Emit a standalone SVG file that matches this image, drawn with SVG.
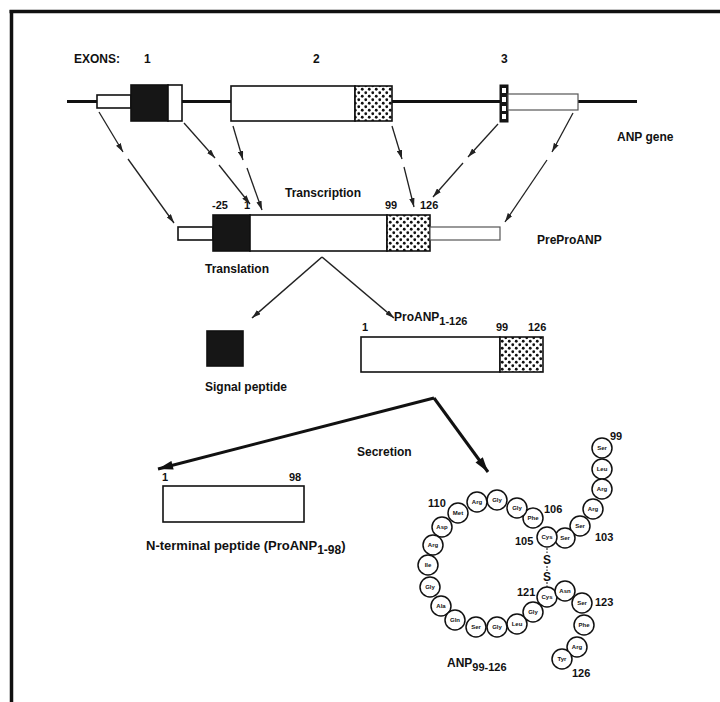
<svg xmlns="http://www.w3.org/2000/svg" width="720" height="702" viewBox="0 0 720 702">
<defs>
<style>
text{font-family:"Liberation Sans",Arial,sans-serif;font-weight:bold;fill:#111}
.lbl{font-size:12px}
.big{font-size:13px}
.num{font-size:11px}
.aa{font-size:6px;text-anchor:middle}
.box{fill:#fff;stroke:#111;stroke-width:1.6}
.blk{fill:#161616;stroke:#111;stroke-width:1.6}
.dot{fill:url(#dots);stroke:#111;stroke-width:1.6}
.utr{fill:#fff;stroke:#555;stroke-width:1.2}
.arr{stroke:#222;stroke-width:1.3;fill:none;marker-end:url(#ah)}
.tl{stroke:#222;stroke-width:1.6;fill:none;marker-end:url(#ah)}
.sec{stroke:#111;stroke-width:3;fill:none;marker-end:url(#bh)}
.res circle{fill:#fff;stroke:#111;stroke-width:1.5}
</style>
<pattern id="dots" width="7" height="7" patternUnits="userSpaceOnUse">
<rect width="7" height="7" fill="#fff"/>
<circle cx="1.75" cy="1.75" r="1.4" fill="#111"/>
<circle cx="5.25" cy="5.25" r="1.4" fill="#111"/>
</pattern>
<marker id="ah" viewBox="0 0 10 6" refX="10" refY="3" markerWidth="9" markerHeight="5.5" orient="auto" markerUnits="userSpaceOnUse">
<path d="M0,0 L10,3 L0,6 z" fill="#222"/>
</marker>
<marker id="bh" viewBox="0 0 10 6" refX="10" refY="3" markerWidth="16" markerHeight="9" orient="auto" markerUnits="userSpaceOnUse">
<path d="M0,0 L10,3 L0,6 z" fill="#111"/>
</marker>
</defs>
<rect width="720" height="702" fill="#fff"/>
<g id="frame" stroke="#111" stroke-width="3.5" fill="none">
<line x1="9.5" y1="11.5" x2="720" y2="11.5"/>
<line x1="11.5" y1="10" x2="11.5" y2="702"/>
</g>

<g id="gene">
<line x1="67" y1="101.5" x2="637" y2="101.5" stroke="#111" stroke-width="3"/>
<rect class="box" x="97" y="95" width="34" height="13"/>
<rect class="blk" x="131" y="85" width="37" height="36"/>
<rect class="box" x="168" y="85" width="14" height="36"/>
<rect class="box" x="231" y="86" width="124" height="35"/>
<rect class="dot" x="355" y="86" width="37" height="35"/>
<rect x="500" y="85" width="8" height="37" fill="#161616" stroke="#111" stroke-width="1"/>
<g fill="#fff"><rect x="502" y="88" width="4" height="5"/><rect x="502" y="97" width="4" height="5"/><rect x="502" y="106" width="4" height="5"/><rect x="502" y="114" width="4" height="5"/></g>
<rect class="utr" x="508" y="94" width="70" height="16"/>
<text class="lbl" x="74" y="63">EXONS:</text>
<text class="lbl" x="144" y="63">1</text>
<text class="lbl" x="313" y="63">2</text>
<text class="lbl" x="501" y="63">3</text>
<text class="lbl" x="617" y="141">ANP gene</text>
</g>

<g id="preproanp">
<rect class="box" x="178" y="227" width="35" height="13"/>
<rect class="blk" x="213" y="215" width="37" height="36"/>
<rect class="box" x="250" y="215" width="137" height="36"/>
<rect class="dot" x="387" y="215" width="43" height="36"/>
<rect class="utr" x="430" y="227" width="70" height="13"/>
<text class="num" x="212" y="209">-25</text>
<text class="num" x="244" y="209">1</text>
<text class="lbl" x="285" y="197">Transcription</text>
<text class="num" x="385" y="209">99</text>
<text class="num" x="420" y="209">126</text>
<text class="lbl" x="205" y="273">Translation</text>
<text class="lbl" x="537" y="244">PreProANP</text>
</g>

<g id="signal-peptide">
<rect class="blk" x="207" y="331" width="36" height="35"/>
<text class="lbl" x="205" y="391">Signal peptide</text>
</g>

<g id="proanp">
<rect class="box" x="361" y="337" width="139" height="35"/>
<rect class="dot" x="500" y="337" width="43" height="35"/>
<text class="lbl" x="394" y="321">ProANP<tspan style="font-size:11px" dy="4">1-126</tspan></text>
<text class="num" x="362" y="331">1</text>
<text class="num" x="496" y="331">99</text>
<text class="num" x="528" y="331">126</text>
<text class="lbl" x="357" y="456">Secretion</text>
</g>

<g id="nterminal">
<rect class="box" x="163" y="486" width="141" height="36"/>
<text class="num" x="162" y="481">1</text>
<text class="num" x="289" y="481">98</text>
<text class="big" x="146" y="550">N-terminal peptide (ProANP<tspan style="font-size:12px" dy="4">1-98</tspan><tspan dy="-4">)</tspan></text>
</g>

<g id="connectors">
<line class="arr" x1="99" y1="112" x2="123" y2="152"/>
<line class="arr" x1="128" y1="159" x2="174" y2="223"/>
<line class="arr" x1="184" y1="123" x2="215" y2="158"/>
<line class="arr" x1="219" y1="165" x2="250" y2="204"/>
<line class="arr" x1="233" y1="126" x2="243" y2="160"/>
<line class="arr" x1="247" y1="168" x2="262" y2="210"/>
<line class="arr" x1="392" y1="126" x2="402" y2="159"/>
<line class="arr" x1="404" y1="167" x2="414" y2="207"/>
<line class="arr" x1="498" y1="124" x2="468" y2="157"/>
<line class="arr" x1="463" y1="163" x2="433" y2="197"/>
<line class="arr" x1="573" y1="113" x2="552" y2="152"/>
<line class="arr" x1="547" y1="160" x2="505" y2="222"/>
<line class="tl" x1="322" y1="257" x2="252" y2="318"/>
<line class="tl" x1="322" y1="257" x2="394" y2="318"/>
<line class="sec" x1="434" y1="398" x2="158" y2="469"/>
<line class="sec" x1="434" y1="398" x2="488" y2="472"/>
</g>

<g id="anp" class="res">
<g stroke="#111" stroke-width="1" stroke-dasharray="2,1.5">
<line x1="547" y1="548" x2="547" y2="553"/>
<line x1="547" y1="566" x2="547" y2="571"/>
<line x1="547" y1="582" x2="547" y2="587"/>
</g>
<text class="lbl" x="547" y="564" text-anchor="middle">S</text>
<text class="lbl" x="547" y="581" text-anchor="middle">S</text>
<g id="r99"><circle cx="602" cy="448" r="10"/><text class="aa" x="602" y="450">Ser</text></g>
<g id="r100"><circle cx="602" cy="469" r="10"/><text class="aa" x="602" y="471">Leu</text></g>
<g id="r101"><circle cx="602" cy="489" r="10"/><text class="aa" x="602" y="491">Arg</text></g>
<g id="r102"><circle cx="593" cy="509" r="10"/><text class="aa" x="593" y="511">Arg</text></g>
<g id="r103"><circle cx="580" cy="526" r="10"/><text class="aa" x="580" y="528">Ser</text></g>
<g id="r104"><circle cx="565" cy="538" r="10"/><text class="aa" x="565" y="540">Ser</text></g>
<g id="r105"><circle cx="547" cy="537" r="10"/><text class="aa" x="547" y="539">Cys</text></g>
<g id="r106"><circle cx="533" cy="518" r="10"/><text class="aa" x="533" y="520">Phe</text></g>
<g id="r107"><circle cx="517" cy="508" r="10"/><text class="aa" x="517" y="510">Gly</text></g>
<g id="r108"><circle cx="497" cy="500" r="10"/><text class="aa" x="497" y="502">Gly</text></g>
<g id="r109"><circle cx="477" cy="502" r="10"/><text class="aa" x="477" y="504">Arg</text></g>
<g id="r110"><circle cx="458" cy="513" r="10"/><text class="aa" x="458" y="515">Met</text></g>
<g id="r111"><circle cx="442" cy="527" r="10"/><text class="aa" x="442" y="529">Asp</text></g>
<g id="r112"><circle cx="433" cy="545" r="10"/><text class="aa" x="433" y="547">Arg</text></g>
<g id="r113"><circle cx="428" cy="565" r="10"/><text class="aa" x="428" y="567">Ile</text></g>
<g id="r114"><circle cx="430" cy="587" r="10"/><text class="aa" x="430" y="589">Gly</text></g>
<g id="r115"><circle cx="441" cy="606" r="10"/><text class="aa" x="441" y="608">Ala</text></g>
<g id="r116"><circle cx="455" cy="620" r="10"/><text class="aa" x="455" y="622">Gln</text></g>
<g id="r117"><circle cx="476" cy="627" r="10"/><text class="aa" x="476" y="629">Ser</text></g>
<g id="r118"><circle cx="497" cy="627" r="10"/><text class="aa" x="497" y="629">Gly</text></g>
<g id="r119"><circle cx="517" cy="624" r="10"/><text class="aa" x="517" y="626">Leu</text></g>
<g id="r120"><circle cx="533" cy="612" r="10"/><text class="aa" x="533" y="614">Gly</text></g>
<g id="r121"><circle cx="547" cy="597" r="10"/><text class="aa" x="547" y="599">Cys</text></g>
<g id="r122"><circle cx="565" cy="591" r="10"/><text class="aa" x="565" y="593">Asn</text></g>
<g id="r123"><circle cx="582" cy="603" r="10"/><text class="aa" x="582" y="605">Ser</text></g>
<g id="r124"><circle cx="584" cy="625" r="10"/><text class="aa" x="584" y="627">Phe</text></g>
<g id="r125"><circle cx="577" cy="647" r="10"/><text class="aa" x="577" y="649">Arg</text></g>
<g id="r126"><circle cx="562" cy="659" r="10"/><text class="aa" x="562" y="661">Tyr</text></g>
<text class="num" x="610" y="440">99</text>
<text class="num" x="428" y="507">110</text>
<text class="num" x="544" y="513">106</text>
<text class="num" x="515" y="545">105</text>
<text class="num" x="595" y="541">103</text>
<text class="num" x="517" y="596">121</text>
<text class="num" x="595" y="606">123</text>
<text class="num" x="572" y="677">126</text>
<text class="lbl" x="447" y="667">ANP<tspan style="font-size:11px" dy="4">99-126</tspan></text>
</g>
</svg>
